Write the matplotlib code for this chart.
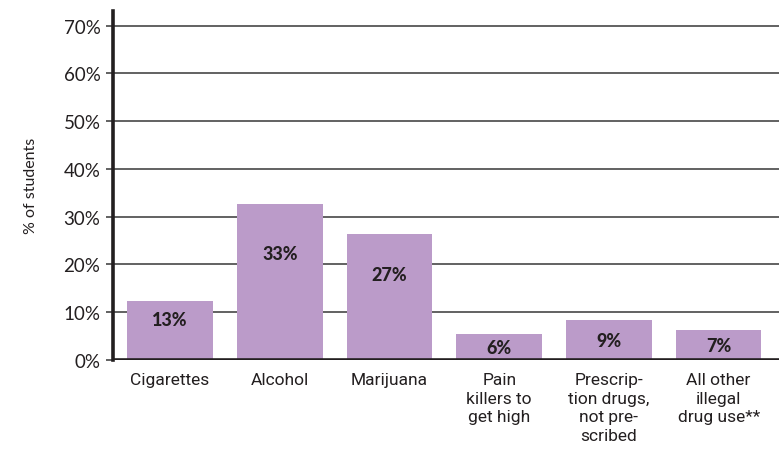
import matplotlib.pyplot as plt
import numpy as np

# data
categories = ["Cigarettes", "Alcohol", "Marijuana", "Pain\nkillers to\nget high",
              "Prescrip-\ntion drugs,\nnot pre-\nscribed", "All other\nillegal\ndrug use**"]
heights = [12.3, 32.7, 26.3, 5.3, 8.4, 6.3]
labels = ["13%", "33%", "27%", "6%", "9%", "7%"]
yticks = [0, 10, 20, 30, 40, 50, 60, 70]

bar_color = "#bb9bc9"

fig = plt.figure(figsize=(7.79, 4.56), dpi=100)
ax = fig.add_axes([0.145, 0.209, 0.855, 0.765])

x = np.arange(len(categories))
ax.bar(x, heights, width=0.78, color=bar_color, zorder=2)

# gridlines behind bars
for t in yticks[1:]:
    ax.axhline(t, color="#555555", lw=1.3, zorder=1)
ax.axhline(0, color="#231f20", lw=2.6, zorder=3)

for xi, h, lab in zip(x, heights, labels):
    y = h * 0.68 if h > 10 else h * 0.47
    ax.text(xi, y, lab, ha="center", va="center", fontsize=13,
            fontweight="black", family="Lato", color="#231f20", zorder=4)

ax.set_xlim(-0.52, 5.55)
ax.set_ylim(0, 73.1)
ax.set_yticks(yticks)
ax.set_yticklabels([f"{t}%" for t in yticks], family="Lato", fontsize=13.5, color="#231f20")
ax.set_xticks(x)
ax.set_xticklabels(categories, family="Roboto", fontsize=12.5, color="#231f20", linespacing=1.3)
ax.tick_params(axis="x", length=0, pad=9)
ax.tick_params(axis="y", length=5, width=1.3, color="#555555", pad=4)

for s in ["top", "right", "bottom"]:
    ax.spines[s].set_visible(False)
ax.spines["left"].set_linewidth(2.6)
ax.spines["left"].set_color("#231f20")
ax.spines["left"].set_zorder(5)

ax.set_ylabel("% of students", family="Lato", fontsize=11.5, color="#231f20", labelpad=18)

plt.savefig("out.png", dpi=100)
